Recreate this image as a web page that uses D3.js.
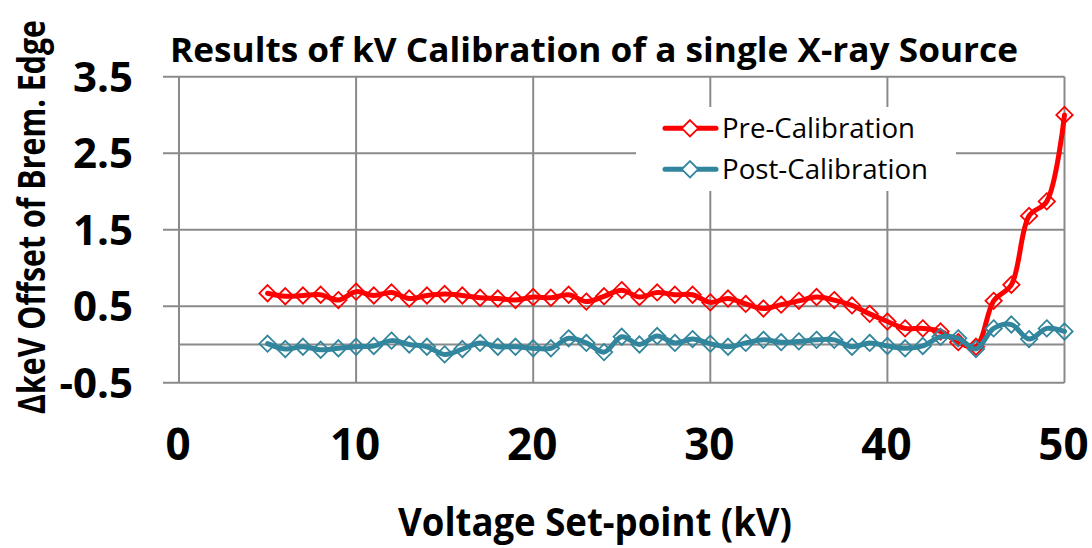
<!DOCTYPE html>
<html>
<head>
<meta charset="utf-8">
<script src="https://cdn.jsdelivr.net/npm/d3@7"></script>
<style>
  body { margin: 0; background: #fff; }
  svg { display: block; font-family: "Open Sans", sans-serif; }
</style>
</head>
<body>
<svg id="chart" width="1092" height="548"></svg>
<script>
// kV set-points
const kv = [5, 6, 7, 8, 9, 10, 11, 12, 13, 14, 15, 16, 17, 18, 19, 20, 21, 22, 23, 24, 25, 26, 27,
    28, 29, 30, 31, 32, 33, 34, 35, 36, 37, 38, 39, 40, 41, 42, 43, 44, 45, 46, 47, 48, 49, 50];

// offsets before calibration
const preCal = [0.67, 0.63, 0.64, 0.65, 0.58, 0.69, 0.64, 0.68, 0.60, 0.64, 0.66, 0.64, 0.61, 0.60,
    0.58, 0.62, 0.61, 0.65, 0.56, 0.63, 0.71, 0.62, 0.68, 0.65, 0.65, 0.55, 0.60, 0.53, 0.47, 0.52,
    0.57, 0.62, 0.58, 0.51, 0.40, 0.30, 0.21, 0.21, 0.17, 0.03, -0.03, 0.57, 0.78, 1.68, 1.87, 3.00];

// offsets after calibration
const postCal = [0.01, -0.06, -0.03, -0.07, -0.05, -0.03, -0.02, 0.05, 0.00, -0.03, -0.13, -0.06, 0.02,
    -0.03, -0.03, -0.05, -0.05, 0.08, 0.02, -0.10, 0.10, 0.00, 0.11, 0.02, 0.07, 0.01, -0.03, 0.02,
    0.06, 0.03, 0.04, 0.06, 0.06, -0.03, 0.02, -0.02, -0.05, -0.02, 0.10, 0.08, -0.06, 0.21, 0.26,
    0.07, 0.21, 0.17];

const xTicks = [0, 10, 20, 30, 40, 50];
const yTicks = [-0.5, 0.5, 1.5, 2.5, 3.5];
const yTickLabels = ["-0.5", "0.5", "1.5", "2.5", "3.5"];

const series = [
    { name: "Pre-Calibration", values: preCal, color: "#ff0000" },
    { name: "Post-Calibration", values: postCal, color: "#31859c" }
];

const svg = d3.select("#chart");
const gridColor = "#8a8a8a";

const x = d3.scaleLinear().domain([0, 50]).range([179, 1064.5]);
const y = d3.scaleLinear().domain([-0.5, 3.5]).range([382.7, 76.7]);

// horizontal gridlines (they stick out left as tick marks)
svg.append("g")
    .selectAll("line")
    .data(yTicks)
    .join("line")
    .attr("x1", 163)
    .attr("x2", x(50))
    .attr("y1", d => y(d))
    .attr("y2", d => y(d))
    .attr("stroke", gridColor)
    .attr("stroke-width", 2);

// vertical gridlines
svg.append("g")
    .selectAll("line")
    .data(xTicks)
    .join("line")
    .attr("x1", d => x(d))
    .attr("x2", d => x(d))
    .attr("y1", y(3.5))
    .attr("y2", y(-0.5))
    .attr("stroke", gridColor)
    .attr("stroke-width", 2);

// x axis line crossing at 0
svg.append("line")
    .attr("x1", x(0))
    .attr("x2", x(50))
    .attr("y1", y(0))
    .attr("y2", y(0))
    .attr("stroke", gridColor)
    .attr("stroke-width", 2);

// tick labels
svg.append("g")
    .selectAll("text")
    .data(yTicks)
    .join("text")
    .attr("x", 133)
    .attr("y", d => y(d) + 15)
    .attr("text-anchor", "end")
    .attr("font-size", 42)
    .attr("font-weight", 700)
    .text((d, i) => yTickLabels[i]);

svg.append("g")
    .selectAll("text")
    .data(xTicks)
    .join("text")
    .attr("x", d => x(d) - 1)
    .attr("y", 460)
    .attr("text-anchor", "middle")
    .attr("font-size", 44)
    .attr("font-weight", 700)
    .text(d => d);

// titles
svg.append("text")
    .attr("x", 170)
    .attr("y", 62)
    .attr("font-size", 34)
    .attr("font-weight", 700)
    .attr("textLength", 848)
    .attr("lengthAdjust", "spacingAndGlyphs")
    .text("Results of kV Calibration of a single X-ray Source");

svg.append("text")
    .attr("x", 398)
    .attr("y", 536)
    .attr("font-size", 40)
    .attr("font-weight", 700)
    .attr("textLength", 394)
    .attr("lengthAdjust", "spacingAndGlyphs")
    .text("Voltage Set-point (kV)");

svg.append("text")
    .attr("transform", "translate(45,414) rotate(-90)")
    .attr("font-size", 37)
    .attr("font-weight", 700)
    .attr("textLength", 394)
    .attr("lengthAdjust", "spacingAndGlyphs")
    .text("ΔkeV Offset of Brem. Edge");

// legend
const legend = svg.append("g");
legend.append("rect")
    .attr("x", 636)
    .attr("y", 107)
    .attr("width", 320)
    .attr("height", 84)
    .attr("fill", "#fff");

const diamond = d3.symbol().type(d3.symbolDiamond2).size(170);

series.forEach((s, i) => {
    const ly = 128.3 + i * 41;
    legend.append("line")
        .attr("x1", 665)
        .attr("x2", 716)
        .attr("y1", ly)
        .attr("y2", ly)
        .attr("stroke", s.color)
        .attr("stroke-width", 5)
        .attr("stroke-linecap", "round");
    legend.append("path")
        .attr("d", diamond)
        .attr("transform", `translate(690,${ly})`)
        .attr("fill", "#fff")
        .attr("stroke", s.color)
        .attr("stroke-width", 1.8);
    legend.append("text")
        .attr("x", 722)
        .attr("y", ly + 10)
        .attr("font-size", 27)
        .attr("textLength", i === 0 ? 193 : 206)
        .attr("lengthAdjust", "spacingAndGlyphs")
        .text(s.name);
});

// data lines and markers
const line = d3.line()
    .x(d => x(d[0]))
    .y(d => y(d[1]))
    .curve(d3.curveCatmullRom.alpha(0.5));

series.forEach(s => {
    const pts = kv.map((k, i) => [k, s.values[i]]);
    const g = svg.append("g");
    g.selectAll("path.mark")
        .data(pts)
        .join("path")
        .attr("class", "mark")
        .attr("d", diamond)
        .attr("transform", d => `translate(${x(d[0])},${y(d[1])})`)
        .attr("fill", "none")
        .attr("stroke", s.color)
        .attr("stroke-width", 1.8);
    g.append("path")
        .datum(pts)
        .attr("d", line)
        .attr("fill", "none")
        .attr("stroke", s.color)
        .attr("stroke-width", 5)
        .attr("stroke-linejoin", "round")
        .attr("stroke-linecap", "round");
});
</script>
</body>
</html>
